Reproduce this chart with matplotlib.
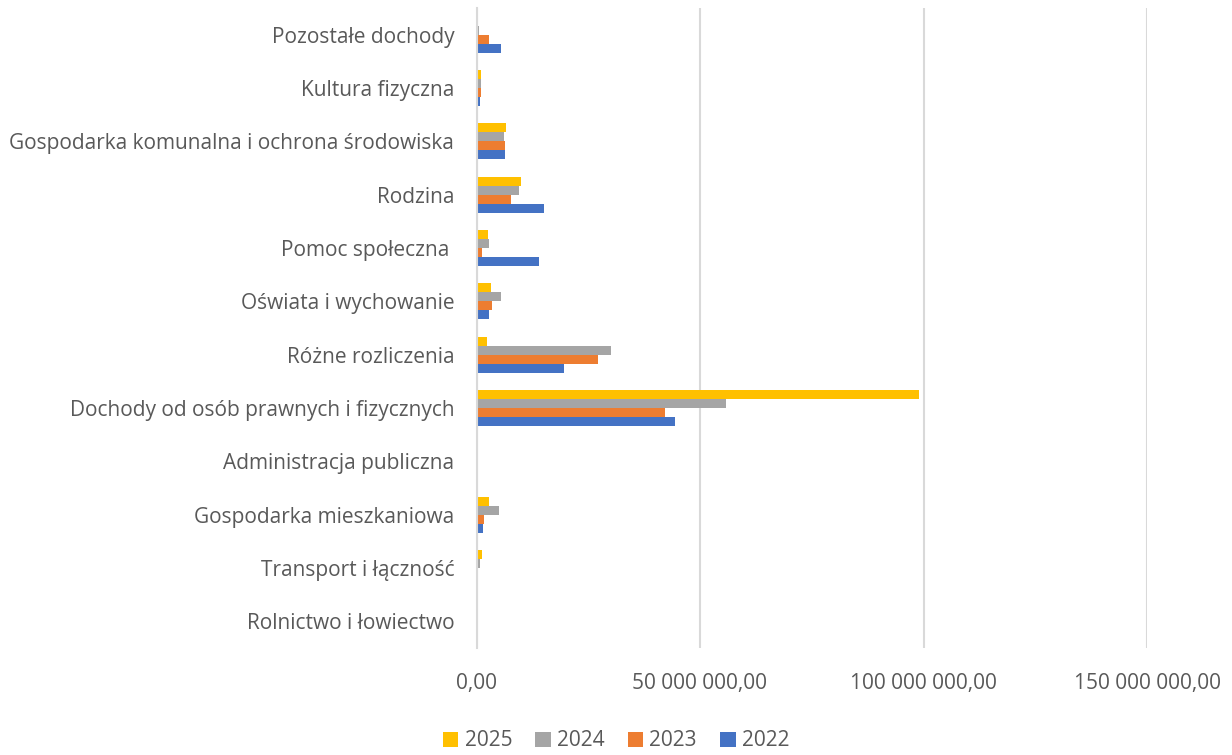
import matplotlib
matplotlib.use("Agg")
import matplotlib.pyplot as plt
import numpy as np
from matplotlib.ticker import FuncFormatter

plt.rcParams['font.family'] = ['Open Sans', 'DejaVu Sans']

categories = [
    "Rolnictwo i łowiectwo",
    "Transport i łączność",
    "Gospodarka mieszkaniowa",
    "Administracja publiczna",
    "Dochody od osób prawnych i fizycznych",
    "Różne rozliczenia",
    "Oświata i wychowanie",
    "Pomoc społeczna ",
    "Rodzina",
    "Gospodarka komunalna i ochrona środowiska",
    "Kultura fizyczna",
    "Pozostałe dochody",
]
years = ["2022", "2023", "2024", "2025"]
v2022 = [0.2e6, 0.0, 1.5e6, 0.2e6, 44.5e6, 19.5e6, 2.9e6, 13.9e6, 15.1e6, 6.3e6, 0.7e6, 5.5e6]
v2023 = [0.4e6, 0.0, 1.7e6, 0.15e6, 42.1e6, 27.1e6, 3.4e6, 1.3e6, 7.7e6, 6.3e6, 0.9e6, 2.7e6]
v2024 = [0.35e6, 0.75e6, 5.0e6, 0.2e6, 55.8e6, 30.1e6, 5.4e6, 2.7e6, 9.5e6, 6.2e6, 0.9e6, 0.6e6]
v2025 = [0.2e6, 1.2e6, 2.75e6, 0.35e6, 99.0e6, 2.4e6, 3.3e6, 2.5e6, 9.9e6, 6.5e6, 1.1e6, 0.15e6]
series = [v2022, v2023, v2024, v2025]
colors = ["#4472C4", "#ED7D31", "#A5A5A5", "#FFC000"]
xticks = [0, 50e6, 100e6, 150e6]

fig = plt.figure(figsize=(12.32, 7.55), dpi=100)
ax = fig.add_axes([476.5 / 1232, 1 - 648 / 755, (1147 - 476.5) / 1232, (648 - 8) / 755])

y = np.arange(len(categories))
h = 0.17
handles = []
for i, (vals, c, yr) in enumerate(zip(series, colors, years)):
    off = (i - 1.5) * h
    b = ax.barh(y + off, vals, height=h, color=c, label=yr, zorder=3)
    handles.append(b)

ax.set_ylim(-0.5, len(categories) - 0.5)
ax.set_xlim(0, 150e6)
ax.set_yticks(y)
ax.set_yticklabels(categories, fontsize=15, color="#595959")
ax.set_xticks(xticks)

def fmt(v, pos):
    s = f"{v:,.2f}".replace(",", " ").replace(".", ",")
    return s

ax.xaxis.set_major_formatter(FuncFormatter(fmt))
ax.tick_params(axis='x', length=0, pad=18, labelsize=15, labelcolor="#595959")
ax.tick_params(axis='y', length=0, pad=16)
ax.grid(axis='x', color="#D9D9D9", linewidth=1.5, zorder=0)
for s in ["top", "right", "bottom"]:
    ax.spines[s].set_visible(False)
ax.spines["left"].set_color("#D9D9D9")
ax.spines["left"].set_linewidth(1.5)
ax.spines["left"].set_zorder(4)

leg = fig.legend(handles[::-1], years[::-1], loc="center", bbox_to_anchor=(616 / 1232, 1 - 741 / 755),
                 ncol=4, frameon=False, fontsize=15, handlelength=0.75, handleheight=0.75,
                 handletextpad=0.3, columnspacing=1.1)
for t in leg.get_texts():
    t.set_color("#595959")

fig.savefig("out.png", dpi=100)
